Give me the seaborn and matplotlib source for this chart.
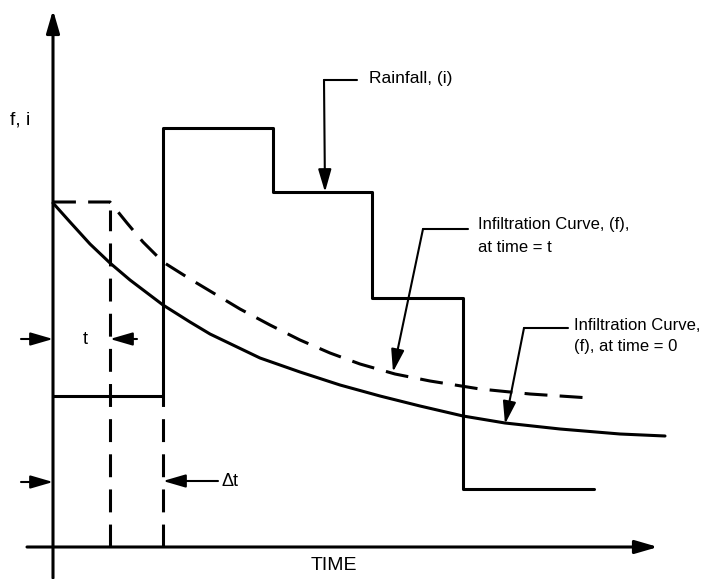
#!/usr/bin/env python3
"""
Horton infiltration sketch: rainfall hyetograph vs infiltration curves
"""
import matplotlib

matplotlib.use("Agg")
import matplotlib.pyplot as plt
import seaborn as sns

# Rainfall steps (time edges, intensity per step)
rain_time = [0, 110, 220, 319, 410, 541]
rain_rate = [151, 419, 355, 249, 58, 58]

# Infiltration curve at time = 0 (solid)
f0_time = [0, 17, 37, 57, 77, 110, 137, 157, 207, 247, 287, 327, 367, 410,
           452, 507, 567, 612]
f0_rate = [344, 325, 303, 284, 267, 242, 225, 213, 189, 175, 162, 151, 141,
           131, 124, 118, 113, 111]

# Infiltration curve at time = t (dashed, shifted by t)
ft_time = [0, 57, 74, 90, 110, 137, 162, 187, 217, 247, 277, 307, 342, 377,
           427, 477, 537]
ft_rate = [345, 345, 324, 305, 285, 268, 253, 238, 222, 207, 194, 183, 173,
           166, 158, 153, 149]

t_shift = 57
dt_step = 110

sns.set_style("white")
plt.rcParams["font.family"] = ["Liberation Sans", "DejaVu Sans"]
plt.rcParams["text.color"] = "black"

fig = plt.figure(figsize=(7.03, 5.79), dpi=100)
ax = fig.add_axes([0, 0, 1, 1])
ax.set_xlim(-53, 650)
ax.set_ylim(-32, 547)
ax.axis("off")

LW = 2.2
dash = (0, (7.5, 4.0))

# Curves
sns.lineplot(x=rain_time, y=rain_rate, ax=ax, color="black", lw=LW,
             drawstyle="steps-post", estimator=None, sort=False)
sns.lineplot(x=f0_time, y=f0_rate, ax=ax, color="black", lw=LW,
             estimator=None, sort=False)
sns.lineplot(x=ft_time, y=ft_rate, ax=ax, color="black", lw=LW,
             linestyle=dash, estimator=None, sort=False)

# dashed verticals at t and dt
ax.vlines(t_shift, 0, 337, color="black", lw=LW, linestyles=dash)
ax.vlines(dt_step, 0, rain_rate[0], color="black", lw=LW, linestyles=dash)

arrow = dict(arrowstyle="-|>,head_length=0.55,head_width=0.16", color="black",
             lw=1.5, mutation_scale=25, shrinkA=0, shrinkB=0)

# Axes with arrows
ax.annotate("", xy=(0, 537), xytext=(0, -31), arrowprops=dict(arrow, lw=LW))
ax.annotate("", xy=(605, 0), xytext=(-26, 0), arrowprops=dict(arrow, lw=LW))
ax.text(281, -18, "TIME", fontsize=14, ha="center", va="center")
ax.text(-43, 427, "f, i", fontsize=14, ha="left", va="center")

# t dimension
ax.annotate("", xy=(0, 208), xytext=(-32, 208), arrowprops=arrow)
ax.annotate("", xy=(t_shift, 208), xytext=(84, 208), arrowprops=arrow)
ax.text(32, 208, "t", fontsize=13, ha="center", va="center")

# delta t dimension
ax.annotate("", xy=(0, 65), xytext=(-32, 65), arrowprops=arrow)
ax.annotate("", xy=(dt_step, 66), xytext=(165, 66), arrowprops=arrow)
ax.text(169, 66, "\u0394t", fontsize=13, ha="left", va="center")

# Rainfall label
ax.plot([304, 271], [467, 467], color="black", lw=1.5)
ax.annotate("", xy=(272, 355), xytext=(271, 467), arrowprops=arrow)
ax.text(316, 469, "Rainfall, (i)", fontsize=12.5, ha="left", va="center")

# Infiltration at time = t label
ax.plot([415, 370], [318, 318], color="black", lw=1.5)
ax.annotate("", xy=(340, 175), xytext=(370, 318), arrowprops=arrow)
ax.text(425, 322, "Infiltration Curve, (f),", fontsize=12, ha="left",
        va="center")
ax.text(425, 300, "at time = t", fontsize=12, ha="left", va="center")

# Infiltration at time = 0 label
ax.plot([515, 471], [219, 219], color="black", lw=1.5)
ax.annotate("", xy=(452, 123), xytext=(471, 219), arrowprops=arrow)
ax.text(521, 222, "Infiltration Curve,", fontsize=12, ha="left", va="center")
ax.text(521, 200, "(f), at time = 0", fontsize=12, ha="left", va="center")

fig.savefig("out.png", dpi=100)
